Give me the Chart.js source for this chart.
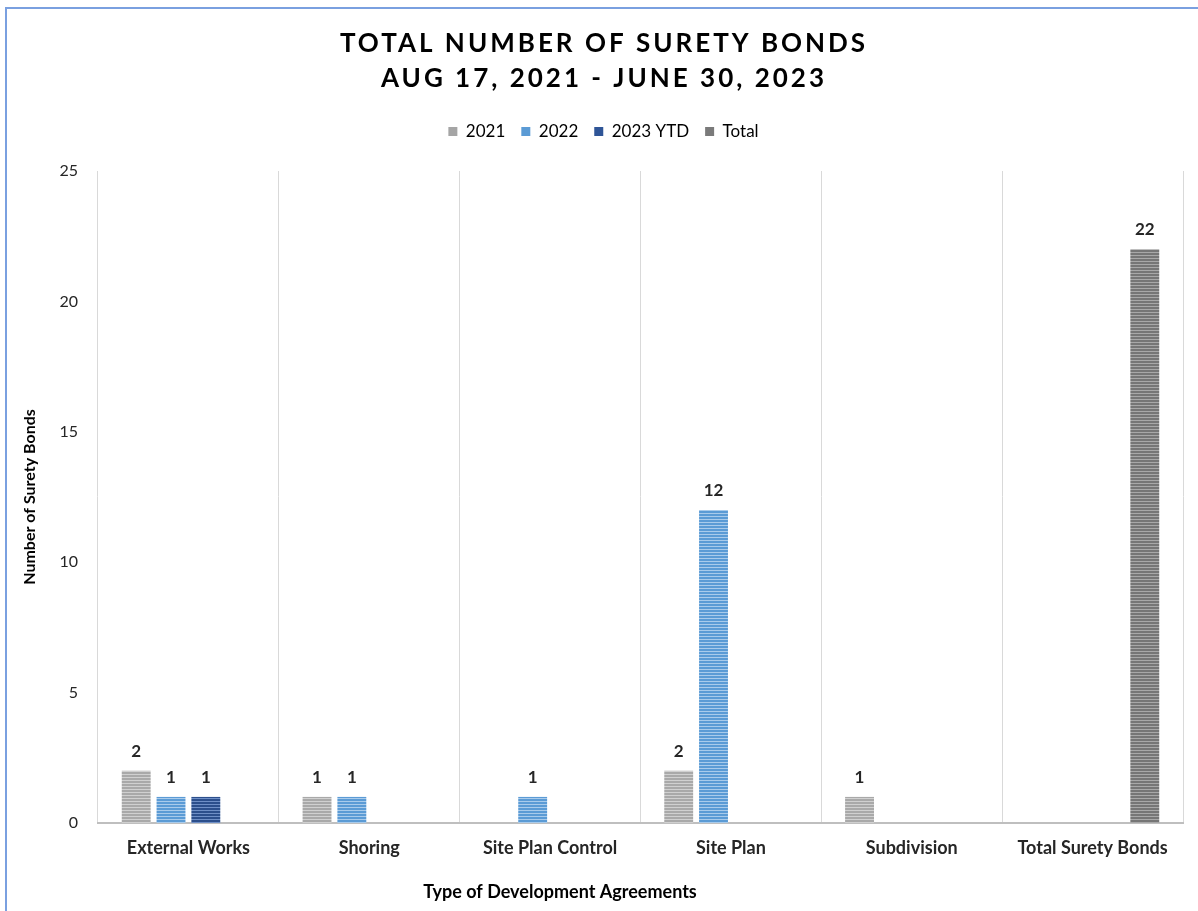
<!DOCTYPE html>
<html>
<head>
<meta charset="utf-8">
<script src="https://cdn.jsdelivr.net/npm/chart.js@4.4.0/dist/chart.umd.min.js"></script>
<style>
  html, body { margin: 0; padding: 0; background: #fff; overflow: hidden; }
  #frame { position: absolute; left: 5px; top: 7px; width: 1400px; height: 1100px; border: 2px solid #7aa0e0; box-sizing: border-box; }
  #wrap { position: absolute; left: 0; top: 0; width: 1198px; height: 911px; }
</style>
</head>
<body>
<div id="frame"></div>
<div id="wrap"><canvas id="c" width="1198" height="911"></canvas></div>
<script>
const categories = ["External Works", "Shoring", "Site Plan Control", "Site Plan", "Subdivision", "Total Surety Bonds"];
const seriesNames = ["2021", "2022", "2023 YTD", "Total"];
const values2021 = [2, 1, null, 2, 1, null];
const values2022 = [1, 1, 1, 12, null, null];
const values2023 = [1, null, null, null, null, null];
const valuesTotal = [null, null, null, null, null, 22];
const yTicks = [0, 5, 10, 15, 20, 25];
const titleLines = ["TOTAL NUMBER OF SURETY BONDS", "AUG 17, 2021 - JUNE 30, 2023"];
const xTitle = "Type of Development Agreements";
const yTitle = "Number of Surety Bonds";

const FONT = "Lato, 'Open Sans', sans-serif";

function stripe(base, light) {
  const p = document.createElement('canvas');
  p.width = 4; p.height = 3;
  const g = p.getContext('2d');
  g.fillStyle = base; g.fillRect(0, 0, 4, 3);
  g.fillStyle = light; g.fillRect(0, 0, 4, 1);
  return document.getElementById('c').getContext('2d').createPattern(p, 'repeat');
}
const solid = ['#a5a5a5', '#5b9bd5', '#2f5597', '#7a7a7a'];
const patterns = [
  stripe('#a9a9a9', '#d0d0d0'),
  stripe('#5b9bd5', '#a9cbeb'),
  stripe('#2c4f8c', '#6f8fc6'),
  stripe('#767676', '#a8a8a8')
];
const allValues = [values2021, values2022, values2023, valuesTotal];

const extras = {
  id: 'extras',
  beforeInit(chart) {
    const lg = chart.legend;
    if (lg && !lg._patched) {
      const fit = lg.fit;
      lg.fit = function () { fit.call(this); this.height += 21; };
      lg._patched = true;
    }
  },
  afterLayout(chart) {
    const lg = chart.legend;
    if (lg) { lg.left += 12; lg.right += 12; if (lg.adjustHitBoxes) lg.adjustHitBoxes(); }
  },
  afterDatasetsDraw(chart) {
    const ctx = chart.ctx;
    ctx.save();
    ctx.fillStyle = '#262626';
    ctx.font = "bold 17px " + FONT;
    ctx.textAlign = 'center';
    ctx.textBaseline = 'bottom';
    chart.data.datasets.forEach((ds, i) => {
      const meta = chart.getDatasetMeta(i);
      meta.data.forEach((bar, j) => {
        const v = ds.data[j];
        if (v === null || v === undefined) return;
        ctx.fillText(String(v), bar.x, bar.y - 11);
      });
    });
    ctx.restore();
  },
  afterDraw(chart) {
    const ctx = chart.ctx;
    ctx.save();
    ctx.fillStyle = '#000';
    ctx.textAlign = 'center';
    ctx.textBaseline = 'middle';
    ctx.font = "bold 26px " + FONT;
    ctx.letterSpacing = '3px';
    ctx.fillText(titleLines[0], 604, 44);
    ctx.fillText(titleLines[1], 604, 79);
    ctx.letterSpacing = '0px';
    ctx.font = "bold 18px " + FONT;
    ctx.fillStyle = '#000';
    ctx.fillText(xTitle, 560, 892);
    ctx.restore();
  }
};

new Chart(document.getElementById('c'), {
  type: 'bar',
  data: {
    labels: categories,
    datasets: allValues.map((vals, i) => ({
      label: seriesNames[i],
      data: vals,
      backgroundColor: patterns[i],
      borderWidth: 0,
      categoryPercentage: 0.77,
      barPercentage: 0.83,
      skipNull: false
    }))
  },
  options: {
    responsive: false,
    animation: false,
    devicePixelRatio: 1,
    layout: { padding: { top: 107, right: 15, left: 0, bottom: 0 } },
    plugins: {
      title: { display: false },
      tooltip: { enabled: false },
      legend: {
        display: true,
        position: 'top',
        labels: {
          font: { family: FONT, size: 17 },
          color: '#404040',
          boxWidth: 9,
          boxHeight: 9,
          padding: 16,
          generateLabels: (chart) => seriesNames.map((n, i) => ({
            text: n, fillStyle: solid[i], strokeStyle: solid[i], lineWidth: 0, datasetIndex: i, hidden: false
          }))
        }
      }
    },
    scales: {
      x: {
        offset: true,
        grid: { display: true, offset: true, color: '#d9d9d9', lineWidth: 1, drawTicks: false },
        border: { display: true, color: '#bfbfbf', width: 2 },
        ticks: { font: { family: FONT, size: 18, weight: 'bold' }, color: '#262626', padding: 14, maxRotation: 0 },
        afterFit: (s) => { s.height = 88; }
      },
      y: {
        min: 0, max: 25,
        afterBuildTicks: (s) => { s.ticks = yTicks.map(v => ({ value: v })); },
        grid: { display: false },
        border: { display: false },
        ticks: { font: { family: FONT, size: 16 }, color: '#262626', padding: 12 },
        title: { display: true, text: yTitle, font: { family: FONT, size: 16, weight: 'bold' }, color: '#000', padding: { top: 20, bottom: 0 } },
        afterFit: (s) => { s.width = 98; }
      }
    }
  },
  plugins: [extras]
});
</script>
</body>
</html>
